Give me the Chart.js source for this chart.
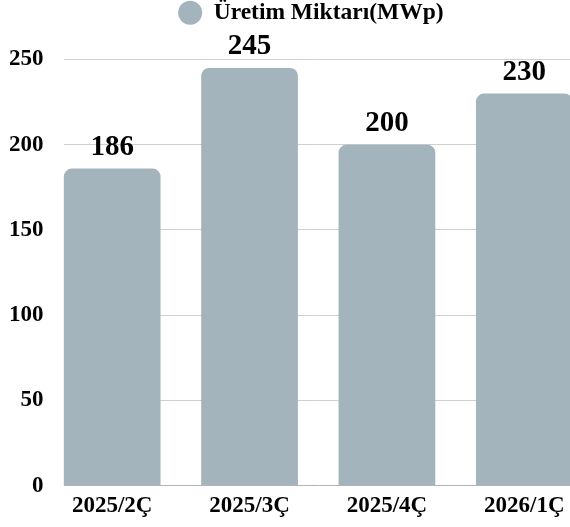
<!DOCTYPE html>
<html><head><meta charset="utf-8">
<script src="https://cdn.jsdelivr.net/npm/chart.js@4.4.0/dist/chart.umd.min.js"></script>
<style>
html,body{margin:0;padding:0;overflow:hidden;background:#fff;width:570px;height:527px}
#wrap{position:absolute;left:0;top:0;width:593px;height:527px}
</style>
</head><body>
<div id="wrap"><canvas id="c" width="593" height="527"></canvas></div>
<script>
// ---- data ----
const categories = ['2025/2Ç', '2025/3Ç', '2025/4Ç', '2026/1Ç'];
const seriesName = 'Üretim Miktarı(MWp)';
const values = [186, 245, 200, 230];
const yTickValues = [0, 50, 100, 150, 200, 250];

const FONT = '"Liberation Serif", "Times New Roman", serif';
const BAR_COLOR = '#a3b4bc';

// value labels above bars
const valueLabels = {
  id: 'valueLabels',
  afterDatasetsDraw(chart) {
    const ctx = chart.ctx;
    const meta = chart.getDatasetMeta(0);
    ctx.save();
    ctx.font = 'bold 29px ' + FONT;
    ctx.fillStyle = '#000';
    ctx.textAlign = 'center';
    ctx.textBaseline = 'alphabetic';
    meta.data.forEach((bar, i) => {
      ctx.fillText(String(chart.data.datasets[0].data[i]), bar.x, bar.y - 14);
    });
    ctx.restore();
  }
};

// gridlines begin at the first bar's left edge
const gridStart = {
  id: 'gridStart',
  beforeDatasetsDraw(chart) {
    const meta = chart.getDatasetMeta(0);
    const first = meta.data[0];
    if (!first) return;
    const a = chart.chartArea;
    const edge = first.x - first.width / 2;
    const ctx = chart.ctx;
    ctx.save();
    ctx.fillStyle = '#fff';
    ctx.fillRect(a.left, a.top - 2, edge - a.left, a.bottom - a.top + 4);
    ctx.restore();
  }
};

// extra space between legend and plot, and legend centred a bit to the right
const legendTweak = {
  id: 'legendTweak',
  beforeLayout(chart) {
    const lg = chart.legend;
    if (lg && !lg._gapPatched) {
      const fit = lg.fit;
      lg.fit = function () { fit.call(this); this.height += 25; };
      lg._gapPatched = true;
    }
  },
  afterLayout(chart) {
    const lg = chart.legend;
    if (lg) lg.left = 29;
  }
};

new Chart(document.getElementById('c'), {
  type: 'bar',
  data: {
    labels: categories,
    datasets: [{
      label: seriesName,
      data: values,
      backgroundColor: BAR_COLOR,
      borderWidth: 0,
      borderRadius: 8,
      barPercentage: 0.88,
      categoryPercentage: 0.8
    }]
  },
  options: {
    responsive: false,
    animation: false,
    devicePixelRatio: 1,
    layout: { padding: { left: 0, right: 0, top: 0, bottom: 0 } },
    plugins: {
      legend: {
        position: 'top',
        labels: {
          usePointStyle: true,
          pointStyle: 'circle',
          boxHeight: 17,
          padding: 1,
          color: '#000',
          font: { family: FONT, size: 23.5, weight: 'bold' }
        }
      },
      tooltip: { enabled: false }
    },
    scales: {
      x: {
        grid: { display: false, drawTicks: false },
        border: { display: false },
        ticks: {
          color: '#000',
          padding: 8,
          maxRotation: 0,
          autoSkip: false,
          font: { family: FONT, size: 23, weight: 'bold', lineHeight: 1.1 }
        }
      },
      y: {
        min: yTickValues[0],
        max: yTickValues[yTickValues.length - 1],
        afterBuildTicks(scale) { scale.ticks = yTickValues.map(v => ({ value: v })); },
        afterFit(scale) { scale.width = 43.5; },
        grid: {
          drawTicks: false,
          color: ctx => (ctx.tick && ctx.tick.value === 0) ? '#b4b4b4' : '#cfcfcf',
          lineWidth: 1
        },
        border: { display: false },
        ticks: {
          color: '#000',
          padding: 0,
          font: { family: FONT, size: 23, weight: 'bold' }
        }
      }
    }
  },
  plugins: [valueLabels, gridStart, legendTweak]
});
</script>
</body></html>
